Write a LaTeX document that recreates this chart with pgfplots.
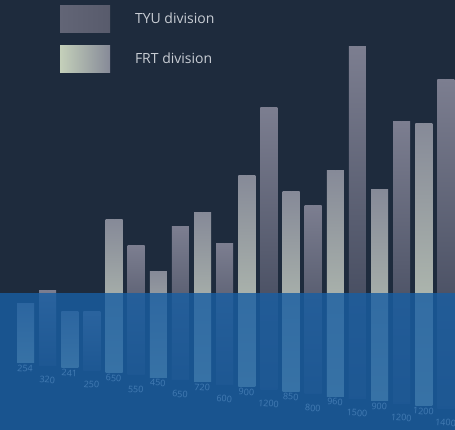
\documentclass[border=0pt]{standalone}
\usepackage{pgfplots}
\pgfplotsset{compat=1.18}
\usepackage{fontspec}
\setmainfont{Open Sans}

\definecolor{bg}{RGB}{30,43,61}
\definecolor{veil}{RGB}{25,94,162}
\definecolor{frtTop}{RGB}{134,138,152}
\definecolor{frtMid}{RGB}{178,190,170}
\definecolor{frtBot}{RGB}{196,208,186}
\definecolor{tyuTop}{RGB}{124,126,144}
\definecolor{tyuMid}{RGB}{66,72,92}
\definecolor{tyuBot}{RGB}{52,60,80}
\definecolor{txt}{RGB}{200,205,212}

% each bar is a shaded box hung below its data point, so the foot follows the slanted baseline
\pgfplotsset{
  slantbar/.style n args={3}{
    only marks, scatter,
    mark=*, mark size=0pt, mark options={draw=none, fill=none},
    visualization depends on={y \as \barval},
    scatter/@pre marker code/.code={%
      \shade[draw=none, top color=#1, middle color=#2, bottom color=#3]
        (-8.5pt,{-0.235*\barval pt}) rectangle (8.5pt,0pt);},
    scatter/@post marker code/.code={},
  },
}

\begin{document}
\begin{tikzpicture}
\useasboundingbox (0,0) rectangle (455pt,430pt);
\fill[bg] (0,0) rectangle (455pt,430pt);
\clip (0,0) rectangle (455pt,430pt);
\begin{axis}[
    at={(25.5pt,67pt)}, anchor=origin,
    x={(22.13pt,-2.37pt)}, y={(0pt,0.235pt)},
    xmin=-1.1523, xmax=19.4105, ymin=0, ymax=1650,
    clip=false,
    axis x line*=bottom, axis y line=none,
    x axis line style={draw=none},
    tick style={draw=none},
    ytick=\empty,
    xtick={0,2,...,18},
    xticklabels={254,241,650,450,720,900,850,960,900,1200},
    extra x ticks={1,3,...,19},
    extra x tick labels={320,250,550,650,600,1200,800,1500,1200,1400},
    extra x tick style={tick label style={yshift=-9pt}},
    xticklabel style={font=\fontsize{9}{10}\selectfont, text=white, anchor=north, rotate=-4, inner sep=2pt},
    legend cell align=left,
    legend style={at={(0.1319,0.925)}, anchor=north west, draw=none, fill=none,
        inner sep=0pt, outer sep=0pt, row sep=13pt, text=txt,
        font=\fontsize{14}{16}\selectfont,
        /tikz/every odd column/.append style={column sep=23pt}},
]
\addplot[slantbar={tyuTop}{tyuMid}{tyuBot},
    legend image code/.code={\shade[draw=none, left color={rgb,255:red,98;green,101;blue,118}, middle color={rgb,255:red,60;green,65;blue,82}, right color={rgb,255:red,88;green,91;blue,108}] (0pt,-13.5pt) rectangle (50pt,13.5pt);}]
    coordinates {(1,320) (3,250) (5,550) (7,650) (9,600) (11,1200) (13,800) (15,1500) (17,1200) (19,1400)};
\addlegendentry{TYU division}
\addplot[slantbar={frtTop}{frtMid}{frtBot},
    legend image code/.code={\shade[draw=none, left color=frtBot, middle color=frtMid, right color=frtTop] (0pt,-13.5pt) rectangle (50pt,13.5pt);}]
    coordinates {(0,254) (2,241) (4,650) (6,450) (8,720) (10,900) (12,850) (14,960) (16,900) (18,1200)};
\addlegendentry{FRT division}
\end{axis}
\fill[veil, opacity=0.82] (0,0) rectangle (455pt,137pt);
\end{tikzpicture}
\end{document}
